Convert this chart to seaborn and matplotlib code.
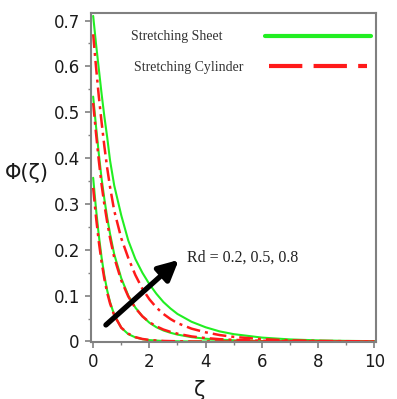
import matplotlib
matplotlib.use("Agg")
import matplotlib.pyplot as plt
import seaborn as sns
import pandas as pd

# zeta grid
zeta = [0, 0.1, 0.2, 0.3, 0.4, 0.5, 0.6, 0.75, 1, 1.25, 1.5, 1.75, 2,
        2.25, 2.5, 2.75, 3, 3.5, 4, 4.5, 5, 6, 7, 8, 9, 10]

rd_values = ["0.2", "0.5", "0.8"]

# stretching sheet (solid green)
sheet = {
    "0.2": [0.357, 0.29, 0.232, 0.183, 0.143, 0.111, 0.086, 0.058, 0.03, 0.016,
            0.009, 0.005, 0.003, 0.002, 0.001, 0.0007, 0.0004, 0, 0, 0, 0, 0,
            0, 0, 0, 0],
    "0.5": [0.534, 0.47, 0.41, 0.355, 0.31, 0.27, 0.235, 0.19, 0.138, 0.10,
            0.074, 0.055, 0.041, 0.031, 0.024, 0.019, 0.015, 0.0095, 0.006,
            0.004, 0.0026, 0.0011, 0.0005, 0.0002, 0.0001, 0],
    "0.8": [0.71, 0.65, 0.595, 0.54, 0.49, 0.445, 0.395, 0.34, 0.275, 0.22,
            0.18, 0.15, 0.125, 0.104, 0.086, 0.072, 0.06, 0.043, 0.031, 0.022,
            0.016, 0.0085, 0.0045, 0.0024, 0.0013, 0.0007],
}

# stretching cylinder (red dash-dot)
cylinder = {
    "0.2": [0.335, 0.272, 0.218, 0.173, 0.136, 0.106, 0.083, 0.057, 0.03,
            0.017, 0.0095, 0.0055, 0.0033, 0.0021, 0.0012, 0.0008, 0.0005, 0,
            0, 0, 0, 0, 0, 0, 0, 0],
    "0.5": [0.52, 0.455, 0.395, 0.342, 0.298, 0.26, 0.226, 0.183, 0.133,
            0.098, 0.073, 0.055, 0.042, 0.033, 0.026, 0.021, 0.017, 0.011,
            0.0075, 0.005, 0.0035, 0.0016, 0.0008, 0.0004, 0.0002, 0.0001],
    "0.8": [0.67, 0.60, 0.535, 0.478, 0.425, 0.378, 0.337, 0.285, 0.225,
            0.182, 0.145, 0.115, 0.092, 0.074, 0.060, 0.049, 0.040, 0.028,
            0.020, 0.014, 0.010, 0.005, 0.0025, 0.0012, 0.0006, 0.0003],
}

rows = []
for geom, table in [("sheet", sheet), ("cylinder", cylinder)]:
    for rd in rd_values:
        for z, p in zip(zeta, table[rd]):
            rows.append({"zeta": z, "phi": p, "Rd": rd, "geom": geom})
df = pd.DataFrame(rows)

sns.set_style("ticks")
plt.rcParams["font.family"] = ["DejaVu Sans"]

fig = plt.figure(figsize=(3.97, 3.99), dpi=100)
ax = fig.add_axes([0.229, 0.143, 0.718, 0.824])

green = "#22ee22"
red = "#ff1a1a"

sns.lineplot(data=df[df.geom == "sheet"], x="zeta", y="phi", units="Rd",
             estimator=None, color=green, lw=1.5, ax=ax)
sns.lineplot(data=df[df.geom == "cylinder"], x="zeta", y="phi", units="Rd",
             estimator=None, color=red, lw=1.8,
             linestyle=(0, (5.5, 2, 1.2, 2)), ax=ax)

ax.set_xlim(-0.08, 10.06)
ax.set_ylim(-0.001, 0.716)
ax.set_xticks([0, 2, 4, 6, 8, 10])
ax.set_xticks(range(0, 11), minor=True)
ax.set_yticks([0, 0.1, 0.2, 0.3, 0.4, 0.5, 0.6, 0.7])
ax.set_yticklabels(["0", "0.1", "0.2", "0.3", "0.4", "0.5", "0.6", "0.7"])
ax.set_yticks([i * 0.05 for i in range(15)], minor=True)

for s in ax.spines.values():
    s.set_color("#808080")
    s.set_linewidth(1.5)
ax.tick_params(which="major", length=4, width=1.2, color="#808080",
               labelsize=12, labelcolor="#1a1a1a", pad=4)
ax.tick_params(which="minor", length=2, width=1, color="#808080")

ax.set_xlabel("ζ", fontsize=15, color="#1a1a1a")
ax.xaxis.set_label_coords(0.382, -0.115)
ax.set_ylabel("Φ(ζ)", fontsize=15, rotation=0, color="#1a1a1a")
ax.yaxis.set_label_coords(-0.225, 0.483)

# legend drawn by hand: text on the left, line on the right
serif = ["Liberation Serif", "DejaVu Serif"]
ax.text(0.140, 0.930, "Stretching Sheet", transform=ax.transAxes,
        fontsize=10, family=serif, color="#333333", va="center")
ax.plot([0.611, 0.982], [0.932, 0.932], transform=ax.transAxes,
        color=green, lw=3)
ax.text(0.151, 0.836, "Stretching Cylinder", transform=ax.transAxes,
        fontsize=10, family=serif, color="#333333", va="center")
ax.plot([0.625, 0.969], [0.839, 0.839], transform=ax.transAxes,
        color=red, lw=3, linestyle=(0, (8, 2.7)))

# arrow showing increasing Rd
ax.annotate("", xy=(3.12, 0.182), xytext=(0.38, 0.032),
            arrowprops=dict(arrowstyle="-|>", lw=3.8, color="black",
                            mutation_scale=30))
ax.text(3.33, 0.182, "Rd = 0.2, 0.5, 0.8", fontsize=11.5, family=serif,
        color="#222222", va="center", ha="left")

fig.savefig("out.png", dpi=100)
plt.close(fig)
